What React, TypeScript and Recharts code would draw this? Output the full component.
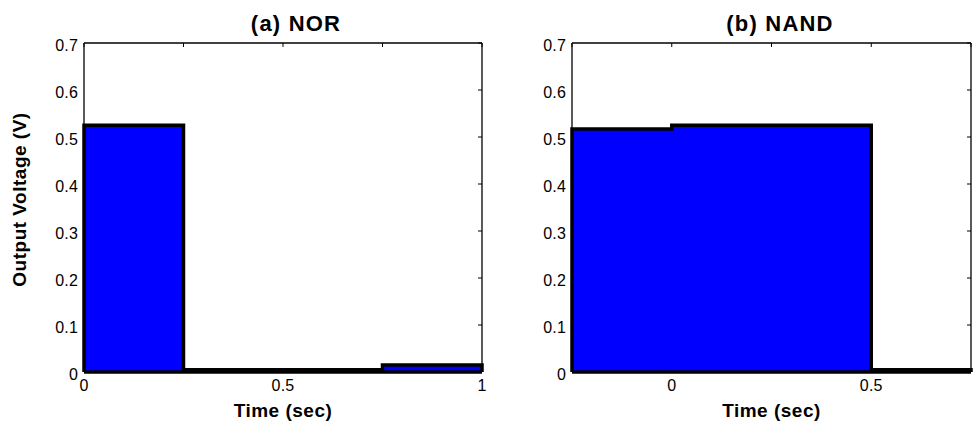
import React from 'react';
import { AreaChart, Area, XAxis, YAxis, ReferenceLine } from 'recharts';

// NOR panel (step outline samples)
const norTime = [0, 0, 0.25, 0.75, 1, 1];
const norVoltage = [0, 0.525, 0.005, 0.015, 0.015, 0];
const norTicks = [0, 0.25, 0.5, 0.75, 1];
const norTickLabels = [0, 0.5, 1];

// NAND panel
const nandTime = [-0.25, -0.25, 0, 0.5, 0.75, 0.75];
const nandVoltage = [0, 0.517, 0.525, 0.005, 0.005, 0];
const nandTicks = [-0.25, 0, 0.25, 0.5, 0.75];
const nandTickLabels = [0, 0.5];

const yTicks = [0, 0.1, 0.2, 0.3, 0.4, 0.5, 0.6, 0.7];

const titles = ['(a) NOR', '(b) NAND'];
const xLabel = 'Time (sec)';
const yLabel = 'Output Voltage (V)';

const FONT = '"Liberation Sans", Arial, Helvetica, sans-serif';
const labelStyle = { fill: '#000', fontSize: 19, fontWeight: 700, fontFamily: FONT, letterSpacing: 0.5 };

function XTick(props: any) {
  const { x, y, payload, labeled } = props;
  const v = payload.value;
  if (!labeled.some((l: number) => Math.abs(l - v) < 1e-9)) return null;
  return (
    <text x={x} y={y + 11} textAnchor="middle" fill="#000" fontSize={16} fontFamily={FONT} letterSpacing={0.2}>
      {String(v)}
    </text>
  );
}

function YTick(props: any) {
  const { x, y, payload } = props;
  return (
    <text x={x} y={y + 8} textAnchor="end" fill="#000" fontSize={16} fontFamily={FONT} letterSpacing={0.2}>
      {String(payload.value)}
    </text>
  );
}

function Panel(props: {
  times: number[];
  values: number[];
  domain: [number, number];
  ticks: number[];
  labeled: number[];
  showYLabel: boolean;
  width: number;
  marginLeft: number;
  yWidth: number;
  marginRight: number;
}) {
  const data = props.times.map((t, i) => ({ t, v: props.values[i] }));
  return (
    <AreaChart
      width={props.width}
      height={428}
      data={data}
      margin={{ top: 43, right: props.marginRight, bottom: 6, left: props.marginLeft }}
    >
      <XAxis
        dataKey="t"
        type="number"
        domain={props.domain}
        ticks={props.ticks}
        tickLine={false}
        tickSize={4}
        tickMargin={4}
        height={50}
        axisLine={{ stroke: '#000', strokeWidth: 1.3 }}
        tick={<XTick labeled={props.labeled} />}
        interval={0}
        label={{ value: xLabel, position: 'insideBottom', offset: 5, style: labelStyle }}
      />
      <XAxis
        xAxisId="top"
        dataKey="t"
        orientation="top"
        mirror
        type="number"
        domain={props.domain}
        allowDataOverflow
        ticks={props.ticks}
        tickFormatter={() => ''}
        tickSize={4}
        interval={0}
        tickLine={{ stroke: '#000', strokeWidth: 1 }}
        axisLine={{ stroke: '#000', strokeWidth: 1.3 }}
      />
      <YAxis
        type="number"
        domain={[0, 0.7]}
        ticks={yTicks}
        tickLine={false}
        tickSize={4}
        tickMargin={2}
        width={props.yWidth}
        interval={0}
        axisLine={{ stroke: '#000', strokeWidth: 1.3 }}
        tick={<YTick />}
        label={
          props.showYLabel
            ? {
                content: (p: any) => {
                  const vb = p.viewBox || {};
                  const cx = vb.x - 5;
                  const cy = vb.y + vb.height / 2 - 8;
                  return (
                    <text
                      x={cx}
                      y={cy}
                      transform={`rotate(-90 ${cx} ${cy})`}
                      textAnchor="middle"
                      dominantBaseline="central"
                      style={labelStyle as any}
                    >
                      {yLabel}
                    </text>
                  );
                },
              }
            : undefined
        }
      />
      <YAxis
        yAxisId="right"
        dataKey="v"
        orientation="right"
        mirror
        type="number"
        domain={[0, 0.7]}
        allowDataOverflow
        ticks={yTicks}
        tickFormatter={() => ''}
        tickSize={4}
        interval={0}
        tickLine={{ stroke: '#000', strokeWidth: 1 }}
        axisLine={{ stroke: '#000', strokeWidth: 1.3 }}
      />
      <Area
        type="stepAfter"
        dataKey="v"
        stroke="#000"
        strokeWidth={3.5}
        strokeLinejoin="miter"
        fill="#0000ff"
        fillOpacity={1}
        isAnimationActive={false}
        dot={false}
        activeDot={false}
      />
      <ReferenceLine y={0} stroke="#000" strokeWidth={3.5} />
    </AreaChart>
  );
}

export default function App() {
  const titleStyle: React.CSSProperties = {
    position: 'absolute',
    top: 13,
    fontFamily: FONT,
    fontWeight: 700,
    fontSize: 22,
    lineHeight: '22px',
    letterSpacing: 1.2,
    whiteSpace: 'nowrap',
    transform: 'translateX(-50%)',
    color: '#000',
  };
  return (
    <div style={{ position: 'absolute', left: 0, top: 0, width: 973, height: 428, background: '#fff', overflow: 'hidden' }}>
      <div style={{ position: 'absolute', left: 0, top: 0 }}>
        <Panel
          times={norTime}
          values={norVoltage}
          domain={[0, 1]}
          ticks={norTicks}
          labeled={norTickLabels}
          showYLabel
          width={490}
          marginLeft={24}
          yWidth={60}
          marginRight={8}
        />
      </div>
      <div style={{ position: 'absolute', left: 490, top: 0 }}>
        <Panel
          times={nandTime}
          values={nandVoltage}
          domain={[-0.25, 0.75]}
          ticks={nandTicks}
          labeled={nandTickLabels}
          showYLabel={false}
          width={483}
          marginLeft={42}
          yWidth={40}
          marginRight={2}
        />
      </div>
      <div style={{ ...titleStyle, left: 296 }}>{titles[0]}</div>
      <div style={{ ...titleStyle, left: 780 }}>{titles[1]}</div>
    </div>
  );
}
